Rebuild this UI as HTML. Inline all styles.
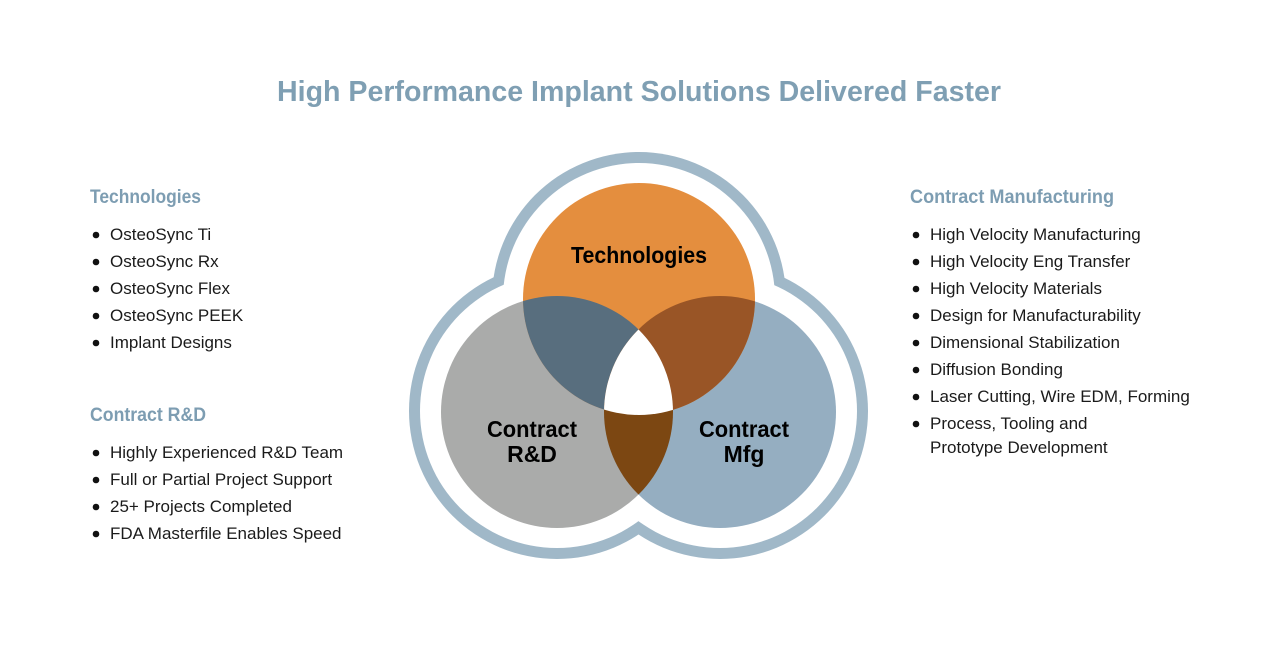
<!DOCTYPE html>
<html><head><meta charset="utf-8"><style>
html,body{margin:0;padding:0;background:#fff}
svg{display:block}
.t{font-family:"Liberation Sans",sans-serif;}
</style></head><body>
<svg width="1278" height="664" viewBox="0 0 1278 664" xmlns="http://www.w3.org/2000/svg">
<defs>
<clipPath id="cT"><circle cx="639" cy="299" r="116"/></clipPath>
<clipPath id="cR"><circle cx="557" cy="412" r="116"/></clipPath>
<clipPath id="cM"><circle cx="720" cy="412" r="116"/></clipPath>
</defs>
<g fill="#a0b8c8">
<circle cx="639" cy="299" r="147"/><circle cx="557" cy="411" r="148"/><circle cx="720" cy="411" r="148"/>
</g>
<g fill="#fff">
<circle cx="639" cy="299" r="136"/><circle cx="557" cy="411" r="137"/><circle cx="720" cy="411" r="137"/>
</g>
<circle cx="557" cy="412" r="116" fill="#aaabaa"/>
<circle cx="720" cy="412" r="116" fill="#95aec1"/>
<circle cx="639" cy="299" r="116" fill="#e48e3e"/>
<circle cx="557" cy="412" r="116" fill="#586e7e" clip-path="url(#cT)"/>
<circle cx="720" cy="412" r="116" fill="#995526" clip-path="url(#cT)"/>
<circle cx="720" cy="412" r="116" fill="#7c4712" clip-path="url(#cR)"/>
<g clip-path="url(#cT)"><circle cx="720" cy="412" r="116" fill="#fff" clip-path="url(#cR)"/></g>

<g class="t" font-weight="bold" fill="#000" font-size="23" text-anchor="middle">
<text x="639" y="263" textLength="136" lengthAdjust="spacingAndGlyphs">Technologies</text>
<text x="532" y="437" textLength="90" lengthAdjust="spacingAndGlyphs">Contract</text>
<text x="532" y="462">R&amp;D</text>
<text x="744" y="437" textLength="90" lengthAdjust="spacingAndGlyphs">Contract</text>
<text x="744" y="462">Mfg</text>
</g>

<text class="t" x="639" y="101" text-anchor="middle" font-size="29" font-weight="bold" fill="#7f9fb3" textLength="724" lengthAdjust="spacingAndGlyphs">High Performance Implant Solutions Delivered Faster</text>

<g class="t" font-size="19" font-weight="bold" fill="#7d9db2">
<text x="90" y="203" textLength="111" lengthAdjust="spacingAndGlyphs">Technologies</text>
<text x="90" y="421" textLength="116" lengthAdjust="spacingAndGlyphs">Contract R&amp;D</text>
<text x="910" y="203" textLength="204" lengthAdjust="spacingAndGlyphs">Contract Manufacturing</text>
</g>

<g class="t" font-size="17" fill="#1a1a1a">
<text x="110" y="240">OsteoSync Ti</text>
<text x="110" y="267">OsteoSync Rx</text>
<text x="110" y="294">OsteoSync Flex</text>
<text x="110" y="321">OsteoSync PEEK</text>
<text x="110" y="348">Implant Designs</text>
<text x="110" y="458">Highly Experienced R&amp;D Team</text>
<text x="110" y="485">Full or Partial Project Support</text>
<text x="110" y="512">25+ Projects Completed</text>
<text x="110" y="539">FDA Masterfile Enables Speed</text>
<text x="930" y="240">High Velocity Manufacturing</text>
<text x="930" y="267">High Velocity Eng Transfer</text>
<text x="930" y="294">High Velocity Materials</text>
<text x="930" y="321">Design for Manufacturability</text>
<text x="930" y="348">Dimensional Stabilization</text>
<text x="930" y="375">Diffusion Bonding</text>
<text x="930" y="402">Laser Cutting, Wire EDM, Forming</text>
<text x="930" y="429">Process, Tooling and</text>
<text x="930" y="453">Prototype Development</text>
</g>
<g fill="#111">
<circle cx="96" cy="235" r="3.3"/><circle cx="96" cy="262" r="3.3"/><circle cx="96" cy="289" r="3.3"/><circle cx="96" cy="316" r="3.3"/><circle cx="96" cy="343" r="3.3"/>
<circle cx="96" cy="453" r="3.3"/><circle cx="96" cy="480" r="3.3"/><circle cx="96" cy="507" r="3.3"/><circle cx="96" cy="534" r="3.3"/>
<circle cx="916" cy="235" r="3.3"/><circle cx="916" cy="262" r="3.3"/><circle cx="916" cy="289" r="3.3"/><circle cx="916" cy="316" r="3.3"/><circle cx="916" cy="343" r="3.3"/><circle cx="916" cy="370" r="3.3"/><circle cx="916" cy="397" r="3.3"/><circle cx="916" cy="424" r="3.3"/>
</g>
</svg>
</body></html>
